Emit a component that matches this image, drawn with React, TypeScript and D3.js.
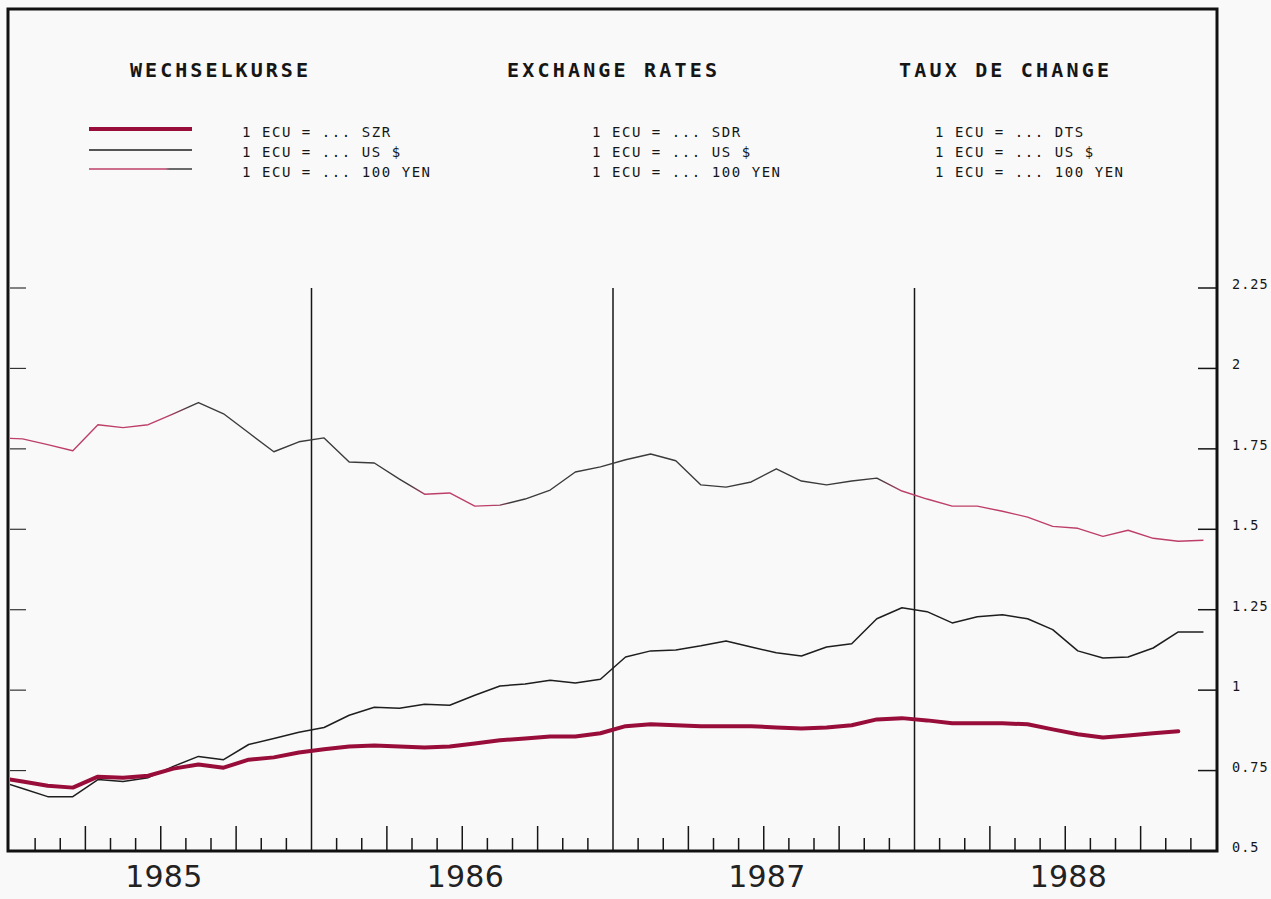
import { useEffect, useRef } from 'react';
import * as d3 from 'd3';

// monthly averages, first point = Dec 1984, one point per month
const sdrValues = [
  0.728, 0.716, 0.703, 0.697, 0.731, 0.728, 0.734, 0.756, 0.769, 0.759, 0.784, 0.791, 0.806,
  0.816, 0.825, 0.828, 0.825, 0.822, 0.825, 0.834, 0.844, 0.850, 0.856, 0.856, 0.866,
  0.888, 0.894, 0.891, 0.888, 0.888, 0.888, 0.884, 0.881, 0.884, 0.891, 0.909, 0.913,
  0.906, 0.897, 0.897, 0.897, 0.894, 0.878, 0.863, 0.853, 0.859, 0.866, 0.872
];
const usdValues = [
  0.719, 0.694, 0.669, 0.669, 0.722, 0.716, 0.728, 0.763, 0.794, 0.784, 0.831, 0.850, 0.869,
  0.884, 0.922, 0.947, 0.944, 0.956, 0.953, 0.984, 1.013, 1.019, 1.031, 1.022, 1.034,
  1.103, 1.122, 1.125, 1.138, 1.153, 1.134, 1.116, 1.106, 1.134, 1.144, 1.222, 1.256,
  1.244, 1.209, 1.228, 1.234, 1.222, 1.188, 1.122, 1.100, 1.103, 1.131, 1.181, 1.181
];
const yenValues = [
  1.784, 1.781, 1.763, 1.744, 1.825, 1.816, 1.825, 1.859, 1.894, 1.859, 1.800, 1.741, 1.772,
  1.784, 1.709, 1.706, 1.656, 1.609, 1.613, 1.572, 1.575, 1.594, 1.622, 1.678, 1.694,
  1.716, 1.734, 1.713, 1.638, 1.631, 1.647, 1.688, 1.650, 1.638, 1.650, 1.659, 1.619,
  1.594, 1.572, 1.572, 1.556, 1.538, 1.509, 1.503, 1.478, 1.497, 1.472, 1.463, 1.466
];

const years = ['1985', '1986', '1987', '1988'];
const yTicks = [0.5, 0.75, 1, 1.25, 1.5, 1.75, 2, 2.25];

const titles = ['WECHSELKURSE', 'EXCHANGE RATES', 'TAUX DE CHANGE'];
const legendTexts = [
  ['1 ECU = ... SZR', '1 ECU = ... US $', '1 ECU = ... 100 YEN'],
  ['1 ECU = ... SDR', '1 ECU = ... US $', '1 ECU = ... 100 YEN'],
  ['1 ECU = ... DTS', '1 ECU = ... US $', '1 ECU = ... 100 YEN']
];

const W = 1271;
const H = 899;

export default function App() {
  const svgRef = useRef<SVGSVGElement>(null);

  useEffect(() => {
    if (!svgRef.current) return;
    const svg = d3.select(svgRef.current);
    svg.selectAll('*').remove();

    const left = 10, right = 1216, top = 9, bottom = 851;
    const ink = '#161616';
    const colors = {
      sdr: '#980d3a',
      usd: '#1e1e1e',
      yenPink: '#bd3f68',
      yenGray: '#3c3a3b'
    };

    // month index scale, 48 months 1985-1988
    const x = d3.scaleLinear().domain([0, 48]).range([left, right]);
    const y = d3.scaleLinear().domain([0.5, 2.25]).range([851, 288]);

    svg.append('rect').attr('width', W).attr('height', H).attr('fill', '#f9f9f9');

    const defs = svg.append('defs');
    defs.append('clipPath').attr('id', 'plot-clip')
      .append('rect')
      .attr('x', left).attr('y', top)
      .attr('width', right - left).attr('height', bottom - top);

    // the thin yen line prints partly reddish, partly grey
    const addGradient = (id: string, x1: number, x2: number, stops: [number, string][]) => {
      const grad = defs.append('linearGradient')
        .attr('id', id)
        .attr('gradientUnits', 'userSpaceOnUse')
        .attr('x1', x1).attr('x2', x2).attr('y1', 0).attr('y2', 0);
      stops.forEach(([o, c]) => grad.append('stop').attr('offset', o).attr('stop-color', c));
    };
    const P = colors.yenPink, G = colors.yenGray;
    addGradient('yen-grad', left, right, [
      [0, P], [0.13, P], [0.15, G], [0.33, G], [0.345, P], [0.40, P], [0.415, G],
      [0.72, G], [0.74, P], [1, P]
    ]);
    addGradient('yen-legend-grad', 89, 192, [[0, P], [0.74, P], [0.78, G], [1, G]]);

    // titles
    const titleX = [130, 507, 899];
    const titleW = [178, 210, 210];
    titles.forEach((t, i) => {
      svg.append('text')
        .attr('x', titleX[i]).attr('y', 77)
        .attr('textLength', titleW[i]).attr('lengthAdjust', 'spacing')
        .style('font-family', '"DejaVu Sans Mono", monospace')
        .style('font-weight', 'bold')
        .style('font-size', '20px')
        .style('fill', ink)
        .text(t);
    });

    // legend texts
    const legendX = [242, 592, 935];
    const rowY = [137, 157, 177];
    legendTexts.forEach((col, i) => {
      col.forEach((t, j) => {
        svg.append('text')
          .attr('x', legendX[i]).attr('y', rowY[j])
          .style('font-family', '"DejaVu Sans Mono", monospace')
          .style('font-size', '14px')
          .style('letter-spacing', '1.55px')
          .style('fill', ink)
          .text(t);
      });
    });

    // legend line samples
    const sampleY = [129, 150, 169];
    const sampleStyle = [
      { c: colors.sdr, w: 4 },
      { c: colors.usd, w: 1.5 },
      { c: 'url(#yen-legend-grad)', w: 1.4 }
    ];
    sampleStyle.forEach((s, j) => {
      svg.append('line')
        .attr('x1', 89).attr('x2', 192)
        .attr('y1', sampleY[j]).attr('y2', sampleY[j] + 0.01)
        .attr('stroke', s.c).attr('stroke-width', s.w);
    });

    const g = svg.append('g');

    // month ticks on the bottom axis, year boundaries as tall lines
    d3.range(1, 48).forEach(k => {
      if (k % 12 === 0) {
        g.append('line')
          .attr('x1', x(k)).attr('x2', x(k))
          .attr('y1', y(2.25)).attr('y2', bottom)
          .attr('stroke', ink).attr('stroke-width', 1.5);
      } else {
        const len = k % 3 === 0 ? 25 : 13;
        g.append('line')
          .attr('x1', x(k)).attr('x2', x(k))
          .attr('y1', bottom - len).attr('y2', bottom)
          .attr('stroke', ink).attr('stroke-width', 1.5);
      }
    });

    // y ticks, inside on both sides
    yTicks.forEach(v => {
      if (v > 0.5) {
        g.append('line')
          .attr('x1', right - 18).attr('x2', right)
          .attr('y1', y(v)).attr('y2', y(v))
          .attr('stroke', ink).attr('stroke-width', 1.5);
        g.append('line')
          .attr('x1', left).attr('x2', left + 16)
          .attr('y1', y(v)).attr('y2', y(v))
          .attr('stroke', '#333').attr('stroke-width', 1.2);
      }
      g.append('text')
        .attr('x', 1232).attr('y', y(v) + 1)
        .style('font-family', '"DejaVu Sans Mono", monospace')
        .style('font-size', '13.5px')
        .style('letter-spacing', '1px')
        .style('fill', ink)
        .text(String(v));
    });

    // year labels
    years.forEach((yr, i) => {
      g.append('text')
        .attr('x', x(12 * i + 6) + 3).attr('y', 887)
        .attr('text-anchor', 'middle')
        .attr('textLength', 77).attr('lengthAdjust', 'spacing')
        .style('font-family', '"DejaVu Sans", sans-serif')
        .style('font-size', '30px')
        .style('fill', '#222')
        .text(yr);
    });

    // series, point i sits in the middle of month (i - 1)
    const line = d3.line<number>()
      .x((d, i) => x(i - 0.5))
      .y(d => y(d));

    const lines = g.append('g').attr('clip-path', 'url(#plot-clip)');

    lines.append('path')
      .datum(yenValues)
      .attr('fill', 'none')
      .attr('stroke', 'url(#yen-grad)')
      .attr('stroke-width', 1.4)
      .attr('stroke-linejoin', 'round')
      .attr('d', line);

    lines.append('path')
      .datum(usdValues)
      .attr('fill', 'none')
      .attr('stroke', colors.usd)
      .attr('stroke-width', 1.5)
      .attr('stroke-linejoin', 'round')
      .attr('d', line);

    lines.append('path')
      .datum(sdrValues)
      .attr('fill', 'none')
      .attr('stroke', colors.sdr)
      .attr('stroke-width', 4)
      .attr('stroke-linejoin', 'round')
      .attr('stroke-linecap', 'round')
      .attr('d', line);

    // frame
    svg.append('rect')
      .attr('x', 8).attr('y', 9)
      .attr('width', 1209).attr('height', 842)
      .attr('fill', 'none')
      .attr('stroke', '#111')
      .attr('stroke-width', 3);
  }, []);

  return (
    <div style={{ position: 'absolute', left: 0, top: 0 }}>
      <svg ref={svgRef} width={W} height={H} style={{ display: 'block' }} />
    </div>
  );
}
